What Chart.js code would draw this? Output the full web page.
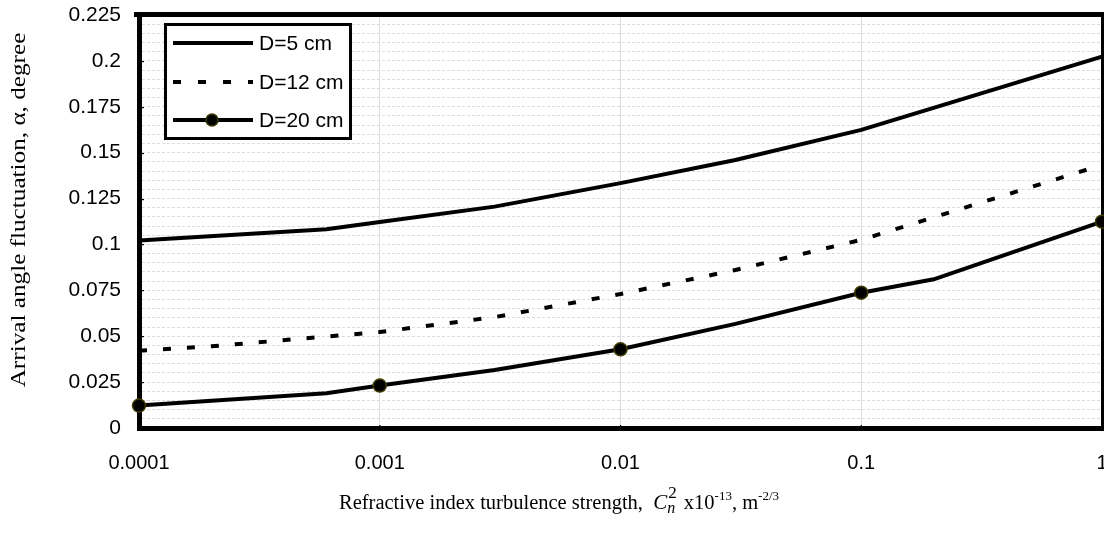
<!DOCTYPE html>
<html>
<head>
<meta charset="utf-8">
<script src="https://cdn.jsdelivr.net/npm/chart.js@4.4.0/dist/chart.umd.min.js"></script>
<style>
  html, body { margin: 0; padding: 0; background: #fff; overflow: hidden; }
  canvas { display: block; }
</style>
</head>
<body>
<canvas id="chart" width="1110" height="539"></canvas>
<script>
// values
const xTickLabels = ['0.0001', '0.001', '0.01', '0.1', '1'];
const seriesNames = ['D=5 cm', 'D=12 cm', 'D=20 cm'];

const d5X = [0.0001, 0.0006, 0.001, 0.003, 0.01, 0.03, 0.1, 1];
const d5Y = [0.1022, 0.1083, 0.1122, 0.1206, 0.1334, 0.1460, 0.1624, 0.2023];

const d12X = [0.0001, 0.0002, 0.001, 0.003, 0.01, 0.03, 0.1, 1];
const d12Y = [0.0421, 0.0445, 0.0523, 0.0604, 0.0730, 0.0861, 0.1025, 0.1433];

const d20X = [0.0001, 0.0006, 0.001, 0.003, 0.01, 0.03, 0.1, 0.2, 1];
const d20Y = [0.0122, 0.0189, 0.0231, 0.0316, 0.0429, 0.0567, 0.0737, 0.0810, 0.1124];

const SANS = '"Liberation Sans", Arial, sans-serif';
const SERIF = '"Liberation Serif", "Times New Roman", serif';

function isDecade(v) {
    const l = Math.log10(v);
    return Math.abs(l - Math.round(l)) < 1e-6;
}
function pts(xs, ys) { return xs.map((x, i) => ({x: x, y: ys[i]})); }

const datasets = [
    {label: seriesNames[0], data: pts(d5X, d5Y), borderColor: '#000', borderWidth: 4, pointRadius: 0, clip: false},
    {label: seriesNames[1], data: pts(d12X, d12Y), borderColor: '#000', borderWidth: 4, borderDash: [8, 16], pointRadius: 0, clip: false},
    {label: seriesNames[2], data: pts(d20X, d20Y), borderColor: '#000', borderWidth: 4, clip: false,
     pointRadius: d20X.map(x => isDecade(x) ? 6.5 : 0),
     pointBackgroundColor: '#000', pointBorderColor: '#3d3a00', pointBorderWidth: 1.5}
];

// frame, inner ticks, legend and axis titles
const decor = {
    id: 'decor',
    beforeDatasetsDraw(chart) {
        const {ctx, chartArea: a, scales} = chart;
        ctx.save();
        ctx.fillStyle = '#000';
        ctx.fillRect(a.left - 5, a.top - 3, a.right - a.left + 5, 5);
        ctx.fillRect(a.right - 1, a.top - 3, 3, a.bottom - a.top + 6);
        scales.y.ticks.forEach(t => {
            const y = Math.round(scales.y.getPixelForValue(t.value)) + 0.5;
            const major = t.label !== '';
            ctx.fillRect(a.left, y - 0.5, major ? 5 : 3, 1.2);
        });
        scales.x.ticks.forEach(t => {
            if (!isDecade(t.value)) return;
            const x = scales.x.getPixelForValue(t.value);
            ctx.fillRect(x - 0.5, a.bottom - 3, 1.2, 3);
        });
        ctx.restore();
    },
    afterDraw(chart) {
        const {ctx} = chart;
        ctx.save();
        // legend
        ctx.fillStyle = '#fff';
        ctx.fillRect(165, 24, 186, 115);
        ctx.lineWidth = 3;
        ctx.strokeStyle = '#000';
        ctx.strokeRect(165.5, 24.5, 185, 114);
        const rows = [43, 82, 120];
        chart.data.datasets.forEach((ds, i) => {
            const y = rows[i];
            ctx.lineWidth = 4;
            ctx.setLineDash(ds.borderDash ? [8, 17] : []);
            ctx.beginPath();
            ctx.moveTo(173, y);
            ctx.lineTo(253, y);
            ctx.stroke();
            ctx.setLineDash([]);
            if (i === 2) {
                ctx.beginPath();
                ctx.arc(212, y, 6, 0, Math.PI * 2);
                ctx.fillStyle = '#000';
                ctx.fill();
                ctx.lineWidth = 1.5;
                ctx.strokeStyle = '#3d3a00';
                ctx.stroke();
                ctx.strokeStyle = '#000';
            }
            ctx.fillStyle = '#000';
            ctx.font = '21px ' + SANS;
            ctx.textBaseline = 'middle';
            ctx.textAlign = 'left';
            ctx.fillText(ds.label, 259, y + 1);
        });

        // y title (stretched along its length like the original)
        ctx.save();
        ctx.translate(20, 210);
        ctx.rotate(-Math.PI / 2);
        ctx.scale(1.26, 1);
        ctx.font = '20px ' + SERIF;
        ctx.textAlign = 'center';
        ctx.textBaseline = 'middle';
        ctx.fillStyle = '#000';
        ctx.fillText('Arrival angle fluctuation, \u03B1, degree', 0, 0);
        ctx.restore();

        // x title with sub/superscripts
        const base = 509;
        let x = 339;
        ctx.fillStyle = '#000';
        ctx.textAlign = 'left';
        ctx.textBaseline = 'alphabetic';
        const put = (txt, font, dy) => {
            ctx.font = font;
            ctx.fillText(txt, x, base + dy);
            x += ctx.measureText(txt).width;
        };
        put('Refractive index turbulence strength,  ', '20.5px ' + SERIF, 0);
        put('C', 'italic 21px ' + SERIF, 0);
        ctx.font = 'italic 16px ' + SERIF;
        ctx.fillText('n', x, base + 4);
        const wN = ctx.measureText('n').width;
        ctx.font = '17px ' + SERIF;
        ctx.fillText('2', x + 1, base - 11);
        x += Math.max(wN, ctx.measureText('2').width) + 3;
        put(' x10', '20.5px ' + SERIF, 0);
        put('-13', '13px ' + SERIF, -9);
        put(', m', '20.5px ' + SERIF, 0);
        put('-2/3', '13px ' + SERIF, -9);
        ctx.restore();
    }
};

window.onload = () => {
    const ctx = document.getElementById('chart').getContext('2d');
    new Chart(ctx, {
        type: 'line',
        data: {datasets: datasets},
        options: {
            responsive: false,
            animation: false,
            layout: {padding: {left: 0, right: 7, top: 15, bottom: 66}},
            plugins: {legend: {display: false}, tooltip: {enabled: false}},
            elements: {line: {tension: 0}},
            scales: {
                x: {
                    type: 'logarithmic',
                    min: 0.0001,
                    max: 1,
                    afterFit: s => { s.height = 45; s.paddingLeft = 0; s.paddingRight = 0; },
                    border: {display: true, color: '#000', width: 5},
                    grid: {
                        drawTicks: false,
                        color: c => isDecade(c.tick.value) ? '#dadada' : 'rgba(0,0,0,0)',
                        lineWidth: 1
                    },
                    ticks: {
                        autoSkip: false,
                        maxRotation: 0,
                        padding: 23,
                        color: '#000',
                        font: {family: SANS, size: 20},
                        callback: v => isDecade(v) ? xTickLabels[Math.round(Math.log10(v)) + 4] : ''
                    }
                },
                y: {
                    min: 0,
                    max: 0.225,
                    afterFit: s => { s.width = 139; s.paddingTop = 0; s.paddingBottom = 0; },
                    border: {display: true, color: '#000', width: 5, dash: [3, 2]},
                    grid: {
                        drawTicks: false,
                        color: '#dcdcdc',
                        lineWidth: 1
                    },
                    ticks: {
                        stepSize: 0.005,
                        autoSkip: false,
                        padding: 18,
                        color: '#000',
                        font: {family: SANS, size: 21},
                        callback: v => {
                            const k = Math.round(v * 1000);
                            return k % 25 === 0 ? String(k / 1000) : '';
                        }
                    }
                }
            }
        },
        plugins: [decor]
    });
};
</script>
</body>
</html>
